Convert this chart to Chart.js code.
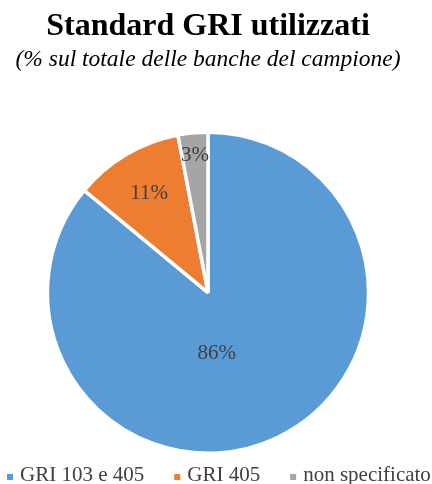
<!DOCTYPE html>
<html>
<head>
<meta charset="utf-8">
<script src="https://cdn.jsdelivr.net/npm/chart.js@4/dist/chart.umd.min.js"></script>
<style>
  html, body { margin: 0; padding: 0; background: #fff; }
  #wrap { width: 432px; height: 484px; }
</style>
</head>
<body>
<div id="wrap"><canvas id="griChart"></canvas></div>
<script>
// data
const categories = ['GRI 103 e 405', 'GRI 405', 'non specificato'];
const shares = [86, 11, 3];
const sliceColors = ['#5B9BD5', '#ED7D31', '#A5A5A5'];

// where each % label sits: fraction of radius, and a small angle shift (deg)
const labelRadius = [0.38, 0.72, 0.86];
const labelShift = [17, 0, 0];

const serif = "'Liberation Serif', 'DejaVu Serif', serif";

// write the % inside the slices
const sliceLabels = {
    id: 'sliceLabels',
    afterDatasetsDraw(chart) {
        const ctx = chart.ctx;
        const meta = chart.getDatasetMeta(0);
        ctx.save();
        ctx.font = '21px ' + serif;
        ctx.fillStyle = '#404040';
        ctx.textAlign = 'center';
        ctx.textBaseline = 'middle';
        meta.data.forEach((arc, i) => {
            const p = arc.getProps(['x', 'y', 'startAngle', 'endAngle', 'outerRadius'], true);
            const mid = (p.startAngle + p.endAngle) / 2 + labelShift[i] * Math.PI / 180;
            const r = p.outerRadius * labelRadius[i];
            ctx.fillText(shares[i] + '%', p.x + Math.cos(mid) * r, p.y + Math.sin(mid) * r);
        });
        ctx.restore();
    }
};

// one-row legend along the bottom edge (the built-in one wraps)
const bottomLegend = {
    id: 'bottomLegend',
    afterDraw(chart) {
        const ctx = chart.ctx;
        const baseline = 481;
        let x = 7;
        ctx.save();
        ctx.font = '21px ' + serif;
        ctx.textBaseline = 'alphabetic';
        ctx.textAlign = 'left';
        chart.data.labels.forEach((label, i) => {
            ctx.fillStyle = chart.data.datasets[0].backgroundColor[i];
            ctx.fillRect(x, baseline - 7, 6, 6);
            x += 13;
            ctx.fillStyle = '#404040';
            ctx.fillText(label, x, baseline);
            x += ctx.measureText(label).width + 30;
        });
        ctx.restore();
    }
};

new Chart(document.getElementById('griChart').getContext('2d'), {
    type: 'pie',
    data: {
        labels: categories,
        datasets: [{
            data: shares,
            backgroundColor: sliceColors,
            borderColor: '#ffffff',
            borderWidth: 3.5
        }]
    },
    options: {
        responsive: true,
        maintainAspectRatio: false,
        animation: false,
        layout: {
            padding: { left: 0, right: 16, top: 0, bottom: 29 }
        },
        plugins: {
            title: {
                display: true,
                text: 'Standard GRI utilizzati',
                color: '#000',
                font: { family: serif, size: 32, weight: 'bold', lineHeight: 1.1 },
                padding: { top: 9, bottom: 2 }
            },
            subtitle: {
                display: true,
                text: '(% sul totale delle banche del campione)',
                color: '#000',
                font: { family: serif, size: 23.5, style: 'italic', lineHeight: 1.2 },
                padding: { top: 0, bottom: 56 }
            },
            legend: { display: false },
            tooltip: { enabled: false }
        }
    },
    plugins: [sliceLabels, bottomLegend]
});
</script>
</body>
</html>
